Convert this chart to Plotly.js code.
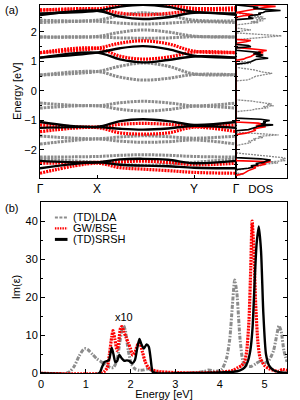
<!DOCTYPE html>
<html><head><meta charset="utf-8">
<script src="https://cdn.plot.ly/plotly-3.0.1.min.js"></script>
<style>html,body{margin:0;padding:0;background:#fff}#c{width:300px;height:400px}</style>
</head><body><div id="c"></div>
<script>
// k-path distances: Γ, X, (X-Y path points), Y, Γ
const kPath = [0, 57, 80, 103, 128, 154, 196];
const kTickVals = [0, 57, 154, 196];
const kTickText = ['Γ', 'X', 'Y', 'Γ'];

// Band energies (eV) per method
const ldaBands = [
  [0.54, 0.66, 0.84, 0.95, 0.84, 0.58, 0.55],
  [0.54, 0.66, 0.47, 0.37, 0.43, 0.56, 0.55],
  [1.83, 1.85, 1.99, 2.07, 2.0, 1.86, 1.83],
  [1.83, 1.83, 1.8, 1.79, 1.8, 1.84, 1.83],
  [2.4, 2.4, 2.56, 2.65, 2.56, 2.4, 2.38],
  [2.32, 2.36, 2.3, 2.27, 2.3, 2.35, 2.32],
  [-0.41, -0.5, -0.4, -0.35, -0.4, -0.5, -0.41],
  [-0.58, -0.5, -0.62, -0.68, -0.63, -0.52, -0.58],
  [-1.53, -1.62, -1.56, -1.52, -1.55, -1.6, -1.53],
  [-1.8, -1.63, -1.7, -1.74, -1.72, -1.66, -1.8],
  [-2.24, -2.22, -2.18, -2.16, -2.18, -2.22, -2.24],
  [-2.3, -2.42, -2.48, -2.52, -2.48, -2.42, -2.3]
];
const gwBands = [
  [1.3, 1.45, 1.62, 1.7, 1.6, 1.35, 1.3],
  [1.3, 1.45, 1.18, 1.08, 1.15, 1.32, 1.3],
  [2.75, 2.78, 2.92, 2.98, 2.92, 2.8, 2.82],
  [2.74, 2.78, 2.64, 2.58, 2.63, 2.73, 2.75],
  [-1.15, -1.22, -1.13, -1.1, -1.13, -1.2, -1.15],
  [-1.38, -1.24, -1.42, -1.46, -1.42, -1.23, -1.38],
  [-2.45, -2.42, -2.4, -2.38, -2.42, -2.5, -2.45],
  [-2.79, -2.45, -2.6, -2.65, -2.7, -2.76, -2.79]
];
const srshBands = [
  [1.13, 1.3, 1.45, 1.52, 1.42, 1.2, 1.13],
  [1.13, 1.3, 1.07, 0.97, 1.05, 1.17, 1.13],
  [2.63, 2.72, 2.86, 2.92, 2.85, 2.68, 2.63],
  [2.57, 2.72, 2.52, 2.44, 2.5, 2.65, 2.58],
  [-1.05, -1.22, -1.02, -0.96, -1.02, -1.15, -1.05],
  [-1.25, -1.22, -1.28, -1.31, -1.27, -1.18, -1.25],
  [-2.37, -2.42, -2.32, -2.3, -2.33, -2.45, -2.37],
  [-2.62, -2.42, -2.5, -2.53, -2.55, -2.6, -2.62]
];

// DOS (energy, density)
const ldaDosE = [2.64,2.6,2.57,2.54,2.51,2.48,2.45,2.42,2.38,2.35,2.32,2.28,2.24,
  2.14,2.1,2.07,2.04,2.0,
  1.97,1.93,1.9,1.87,1.84,1.81,1.78,1.74,
  1.02,0.98,0.94,0.9,
  0.8,0.76,0.72,0.68,0.64,0.6,0.57,0.53,0.5,0.46,0.42,0.38,0.34,
  -0.3,-0.34,-0.38,-0.41,-0.44,-0.47,-0.5,-0.53,-0.57,-0.61,-0.65,-0.7,
  -1.4,-1.45,-1.49,-1.52,-1.55,-1.58,-1.62,-1.66,-1.7,-1.75,-1.8,-1.85,
  -2.1,-2.15,-2.19,-2.22,-2.26,-2.29,-2.32,-2.36,-2.4,-2.44,-2.48,-2.53,-2.58,-2.63,-2.7,
  -2.78,-2.82,-2.86];
const ldaDosD = [0,0.25,0.45,0.3,0.55,0.35,0.6,0.4,0.55,0.3,0.45,0.2,0,
  0,0.2,0.3,0.15,0,
  0,0.45,0.6,0.92,0.7,0.5,0.35,0,
  0,0.25,0.3,0,
  0,0.2,0.35,0.45,0.55,0.73,0.6,0.5,0.4,0.35,0.3,0.25,0,
  0,0.3,0.45,0.6,0.72,0.62,0.76,0.55,0.65,0.4,0.3,0,
  0,0.5,0.86,0.6,0.45,0.55,0.35,0.4,0.25,0.3,0.15,0,
  0,0.3,0.55,0.8,0.95,1.0,0.9,1.0,0.7,0.85,0.55,0.5,0.3,0.2,0,
  0,0.15,0];
const gwDosE = [2.95,2.9,2.87,2.84,2.8,2.76,2.72,2.66,2.62,2.58,2.55,2.5,
  1.75,1.71,1.67,1.62,
  1.48,1.44,1.4,1.37,1.33,1.3,1.26,1.22,1.17,1.12,1.08,1.04,
  -1.05,-1.09,-1.13,-1.17,-1.21,-1.25,-1.29,-1.33,-1.38,-1.43,-1.48,
  -2.36,-2.4,-2.44,-2.48,-2.52,-2.56,-2.6,-2.65,-2.7,-2.75,-2.8,-2.86];
const gwDosD = [0,0.4,0.8,0.6,0.45,0.35,0.2,0,0.2,0.35,0.15,0,
  0,0.3,0.2,0,
  0,0.35,0.5,0.62,0.45,0.55,0.4,0.35,0.3,0.2,0.15,0,
  0,0.45,0.55,0.4,0.6,0.45,0.35,0.4,0.3,0.2,0,
  0,0.7,0.5,0.6,0.45,0.35,0.4,0.3,0.25,0.2,0.15,0];
const srshDosE = [2.92,2.88,2.84,2.8,2.76,2.73,2.7,2.66,2.63,2.6,2.56,2.5,2.46,2.42,
  1.58,1.54,1.5,1.46,
  1.38,1.34,1.3,1.26,1.22,1.18,1.14,1.11,1.07,1.03,0.99,0.95,0.91,
  -0.92,-0.96,-1.0,-1.04,-1.08,-1.12,-1.15,-1.19,-1.23,-1.27,-1.31,-1.35,
  -2.26,-2.3,-2.34,-2.38,-2.42,-2.46,-2.5,-2.54,-2.58,-2.62,-2.66];
const srshDosD = [0,0.3,0.45,0.35,0.6,0.9,0.6,0.55,0.45,0.5,0.3,0.25,0.35,0,
  0,0.25,0.3,0,
  0,0.3,0.5,0.35,0.55,0.4,0.62,0.65,0.4,0.35,0.3,0.2,0,
  0,0.5,0.68,0.55,0.6,0.5,0.75,0.45,0.4,0.3,0.25,0,
  0,0.5,0.7,0.6,0.55,0.4,0.45,0.3,0.35,0.25,0];

// Absorption spectra Im(eps)
const ldaSpecE = [0,0.55,0.65,0.75,0.85,0.95,1.0,1.05,1.15,1.25,1.35,1.45,1.55,1.62,1.7,1.76,1.81,1.85,1.89,1.95,2.02,2.1,2.2,2.3,2.4,2.5,2.6,3.0,3.5,3.65,3.75,3.85,3.95,4.05,4.15,4.22,4.28,4.33,4.38,4.45,4.52,4.6,4.7,4.8,4.9,5.0,5.1,5.2,5.27,5.32,5.37,5.43,5.5];
const ldaSpecV = [0,0,0.5,2,4.5,6.3,6.5,6.2,5,3.8,3,2.3,1.5,1.5,3.5,8,11.5,12.5,11,6,2.5,1.2,0.8,0.9,1.2,0.6,0.3,0.1,0.2,0.5,0.9,0.6,0.6,1.2,4,9,18,24.5,21,9,3,2,1.8,2.5,3.2,2.8,3.5,6,10,12.5,11,6,3];
const gwSpecE = [0,1.35,1.42,1.48,1.53,1.58,1.61,1.65,1.7,1.74,1.78,1.81,1.85,1.9,1.95,2.0,2.05,2.1,2.16,2.21,2.27,2.33,2.4,2.5,2.7,3.0,3.5,3.8,4.1,4.3,4.4,4.48,4.55,4.6,4.65,4.69,4.72,4.76,4.8,4.85,4.9,5.0,5.1,5.2,5.3,5.4,5.5];
const gwSpecV = [0,0,0.5,1.5,5,9.5,11.2,9,6,8.5,12,12.3,11,9.5,8,6.5,4.8,5.5,7.5,7.9,5.5,3,1.5,0.8,0.4,0.2,0.1,0.2,0.4,0.8,1.5,2,3,6,14,28,40,32,18,8,4,2,1.2,0.8,0.5,1,0.8];
const srshSpecE = [0,1.3,1.36,1.42,1.47,1.52,1.58,1.62,1.66,1.7,1.75,1.8,1.86,1.92,1.98,2.04,2.1,2.15,2.2,2.25,2.3,2.36,2.41,2.45,2.5,2.6,3.0,3.5,4.0,4.3,4.45,4.55,4.62,4.68,4.73,4.78,4.82,4.87,4.92,4.97,5.03,5.1,5.2,5.3,5.5];
const srshSpecV = [0,0,1.5,3,3.2,3.5,6.7,5,3,3.2,4.8,4,3.3,3.4,3.2,2.6,3.5,6.5,9,7.5,6.5,7.6,7,4,0.3,0,0,0.1,0.2,0.4,0.8,1.5,3,6,12,25,34,38.6,32,16,5,2,0.8,0.4,0.1];

const seriesNames = ['(TD)LDA', 'GW/BSE', '(TD)SRSH'];

const grayBand = {color: '#8c8c8c', width: 3, dash: '2.5px,1px'};
const graySpec = {color: '#8c8c8c', width: 3, dash: '4px,1.5px,1.5px,1.5px'};
const redLine = {color: '#ff0000', width: 3.2, dash: '2px,1px'};
const blackLine = {color: '#000000', width: 2.4};
const legendStyles = [
  {color: '#8c8c8c', width: 2, dash: '3px,1.5px'},
  {color: '#ff0000', width: 2.4, dash: '1.5px,1px'},
  {color: '#000000', width: 3}
];

const traces = [];
function addBands(bands, line) {
  bands.forEach(b => traces.push({x: kPath, y: b, xaxis: 'x', yaxis: 'y', mode: 'lines',
    line: Object.assign({shape: 'spline', smoothing: 1}, line), showlegend: false, hoverinfo: 'skip'}));
}
addBands(ldaBands, grayBand);
addBands(gwBands, redLine);
addBands(srshBands, blackLine);

traces.push({x: ldaDosD, y: ldaDosE, xaxis: 'x2', yaxis: 'y2', mode: 'lines', showlegend: false,
  line: {color: '#888', width: 1.3, dash: '2px,1px'}});
traces.push({x: gwDosD, y: gwDosE, xaxis: 'x2', yaxis: 'y2', mode: 'lines', showlegend: false,
  line: {color: '#ff0000', width: 1.6}});
traces.push({x: srshDosD, y: srshDosE, xaxis: 'x2', yaxis: 'y2', mode: 'lines', showlegend: false,
  line: {color: '#000', width: 1.6}});

traces.push({x: ldaSpecE, y: ldaSpecV, xaxis: 'x3', yaxis: 'y3', mode: 'lines', name: seriesNames[0], showlegend: false,
  line: Object.assign({shape: 'spline', smoothing: 0.6}, graySpec)});
traces.push({x: gwSpecE, y: gwSpecV, xaxis: 'x3', yaxis: 'y3', mode: 'lines', name: seriesNames[1], showlegend: false,
  line: Object.assign({shape: 'spline', smoothing: 0.6}, redLine)});
traces.push({x: srshSpecE, y: srshSpecV, xaxis: 'x3', yaxis: 'y3', mode: 'lines', name: seriesNames[2], showlegend: false,
  line: Object.assign({shape: 'spline', smoothing: 0.6}, blackLine)});

const ax = {showline: true, linecolor: '#000', linewidth: 1, showgrid: false, zeroline: false,
  ticks: 'inside', tickcolor: '#000', ticklen: 4, tickfont: {size: 11, color: '#000'}};
const E_RANGE = [-2.95, 2.915];

// hand-drawn legend (compact, as in the reference)
const legendRows = [0.4565, 0.4290, 0.4015];
const shapes = legendRows.map((yy, i) => ({type: 'line', xref: 'paper', yref: 'paper',
  x0: 0.183, x1: 0.225, y0: yy, y1: yy, line: legendStyles[i]}));
const legendText = legendRows.map((yy, i) => ({text: seriesNames[i], xref: 'paper', yref: 'paper',
  x: 0.236, y: yy, xanchor: 'left', yanchor: 'middle', showarrow: false, font: {size: 11}}));

const layout = {
  width: 300, height: 400, margin: {l: 0, r: 0, t: 0, b: 0},
  paper_bgcolor: '#fff', plot_bgcolor: '#fff',
  font: {family: 'Liberation Sans, Arial, sans-serif', size: 11, color: '#000'},
  xaxis: Object.assign({}, ax, {domain: [0.1333, 0.7867], range: [0, 196], anchor: 'y', mirror: true,
    tickvals: kTickVals, ticktext: kTickText, ticklen: 3, tickfont: {size: 12}}),
  yaxis: Object.assign({}, ax, {domain: [0.555, 0.9875], range: E_RANGE, anchor: 'x', mirror: 'ticks',
    dtick: 1, minor: {dtick: 0.5, ticklen: 2, ticks: 'inside', tickcolor: '#000'}}),
  xaxis2: Object.assign({}, ax, {domain: [0.7867, 0.9567], range: [0, 1.03], anchor: 'y2', mirror: true,
    tickvals: [0.5], ticktext: ['DOS'], ticks: '', tickfont: {size: 11.5}}),
  yaxis2: Object.assign({}, ax, {domain: [0.555, 0.9875], range: E_RANGE, anchor: 'x2', mirror: 'ticks',
    dtick: 1, showticklabels: false, minor: {dtick: 0.5, ticklen: 2, ticks: 'inside', tickcolor: '#000'}}),
  xaxis3: Object.assign({}, ax, {domain: [0.1367, 0.9567], range: [0, 5.5], anchor: 'y3', mirror: true,
    dtick: 1, title: {text: 'Energy [eV]', font: {size: 11}, standoff: 2}}),
  yaxis3: Object.assign({}, ax, {domain: [0.0667, 0.495], range: [0, 45], anchor: 'x3', mirror: 'ticks',
    dtick: 10, minor: {dtick: 5, ticklen: 2, ticks: 'inside', tickcolor: '#000'}}),
  showlegend: false,
  shapes: shapes,
  annotations: [
    {text: '(a)', xref: 'paper', yref: 'paper', x: 0.01, y: 0.995, xanchor: 'left', yanchor: 'top', showarrow: false, font: {size: 11}},
    {text: '(b)', xref: 'paper', yref: 'paper', x: 0.01, y: 0.5, xanchor: 'left', yanchor: 'top', showarrow: false, font: {size: 11}},
    {text: 'Energy [eV]', xref: 'paper', yref: 'paper', x: 0.058, y: 0.7713, xanchor: 'center', yanchor: 'middle', textangle: -90, showarrow: false, font: {size: 11}},
    {text: 'Im(ε)', xref: 'paper', yref: 'paper', x: 0.052, y: 0.281, xanchor: 'center', yanchor: 'middle', textangle: -90, showarrow: false, font: {size: 11}},
    {text: 'x10', xref: 'x3', yref: 'y3', x: 1.85, y: 14.8, showarrow: false, font: {size: 11}}
  ].concat(legendText)
};

Plotly.newPlot('c', traces, layout, {staticPlot: true, displayModeBar: false});
</script></body></html>
